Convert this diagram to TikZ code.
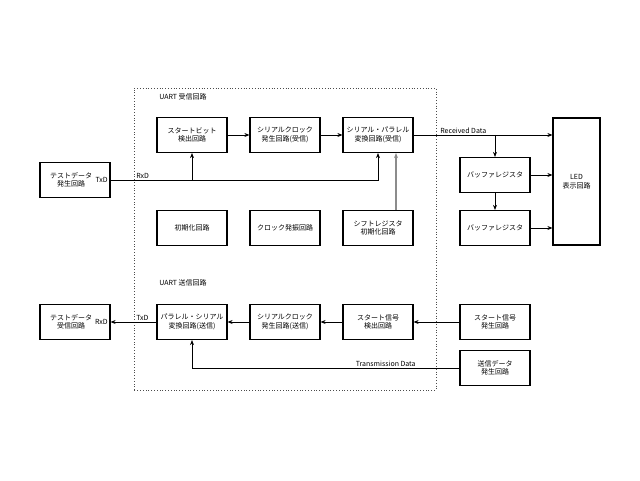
\documentclass[tikz,border=0pt]{standalone}
\usepackage{fontspec}
\setmainfont{Noto Sans CJK JP}
\usetikzlibrary{arrows.meta,positioning}

\begin{document}
\begin{tikzpicture}[x=1pt,y=1pt,->,>={Stealth[length=5pt,width=4pt]},line width=0.7pt,
                    node distance=93pt,font=\fontsize{7}{8.5}\selectfont,
                    blocknode/.style={rectangle, draw=black, fill=white, line width=1.2pt, minimum width=70pt, minimum height=35pt, align=center},
                    lednode/.style={blocknode, minimum width=47pt, minimum height=127pt},
                    labelnode/.style={draw=none, fill=none, inner sep=1pt, align=center}]
      \useasboundingbox (0,0) rectangle (640,480);
      \draw[-,dotted,line width=0.8pt,black!70] (134,90) rectangle (436,392);
      \node[labelnode, anchor=west] (rxtitle) at (158,383) {UART 受信回路};
      \node[labelnode, anchor=west] (txtitle) at (158,197) {UART 送信回路};

      \node[blocknode]                   (SB)  at (192,345) {スタートビット\\検出回路};
      \node[blocknode]                   (SCR) [right of=SB]  {シリアルクロック\\発生回路(受信)};
      \node[blocknode]                   (SP)  [right of=SCR] {シリアル・パラレル\\変換回路(受信)};
      \node[blocknode]                   (INI) [below of=SB]  {初期化回路};
      \node[blocknode]                   (OSC) [right of=INI] {クロック発振回路};
      \node[blocknode]                   (SRI) [right of=OSC] {シフトレジスタ\\初期化回路};
      \node[blocknode]                   (TDG) at (75,300)    {};
      \node[blocknode]                   (BR1) at (495,305)   {バッファレジスタ};
      \node[blocknode]                   (BR2) at (495,252)   {バッファレジスタ};
      \node[lednode]                     (LED) at (576.5,298.5) {LED\\表示回路};

      \node[blocknode]                   (PS)  at (192,158)   {パラレル・シリアル\\変換回路(送信)};
      \node[blocknode]                   (SCT) [right of=PS]  {シリアルクロック\\発生回路(送信)};
      \node[blocknode]                   (SSD) [right of=SCT] {スタート信号\\検出回路};
      \node[blocknode]                   (TDR) at (75,158)    {};
      \node[blocknode]                   (SSG) at (495,158)   {スタート信号\\発生回路};
      \node[blocknode]                   (TDS) at (495,112)   {送信データ\\発生回路};

      \node[labelnode] (tdgtext) at ([xshift=-4pt]TDG.center) {テストデータ\\発生回路};
      \node[labelnode] (tdrtext) at ([xshift=-4pt]TDR.center) {テストデータ\\受信回路};
      \node[labelnode, anchor=east] (txd) at ([xshift=-1.5pt]TDG.east) {TxD};
      \node[labelnode, anchor=east] (rxd) at ([xshift=-1.5pt]TDR.east) {RxD};

      \coordinate (rxj) at (SP.south |- TDG.east);
      \draw (TDG.east) -- (rxj) -- (SP.south);
      \draw (SB.south |- TDG.east) -- (SB.south);
      \node[labelnode, anchor=south west] at (135,300) {RxD};
      \draw (SB) -- (SCR);
      \draw (SCR) -- (SP);
      \draw[black!45,line width=1.2pt] ([xshift=18pt]SRI.north) -- ([xshift=18pt]SP.south);

      \coordinate (rdj) at (BR1.north |- SP.east);
      \draw (SP.east) -- (SP.east -| LED.west);
      \node[labelnode, anchor=south west] at (439,345) {Received Data};
      \draw (rdj) -- (BR1.north);
      \draw (BR1) -- (BR2);
      \draw (BR1.east) -- (BR1.east -| LED.west);
      \draw (BR2.east) -- (BR2.east -| LED.west);

      \draw (SSG) -- (SSD);
      \draw (SSD) -- (SCT);
      \draw (SCT) -- (PS);
      \draw (PS) -- (TDR);
      \node[labelnode, anchor=south west] at (135,158) {TxD};
      \draw (TDS.west) -| (PS.south);
      \node[labelnode, anchor=south east] at (417,112) {Transmission Data};
\end{tikzpicture}
\end{document}
